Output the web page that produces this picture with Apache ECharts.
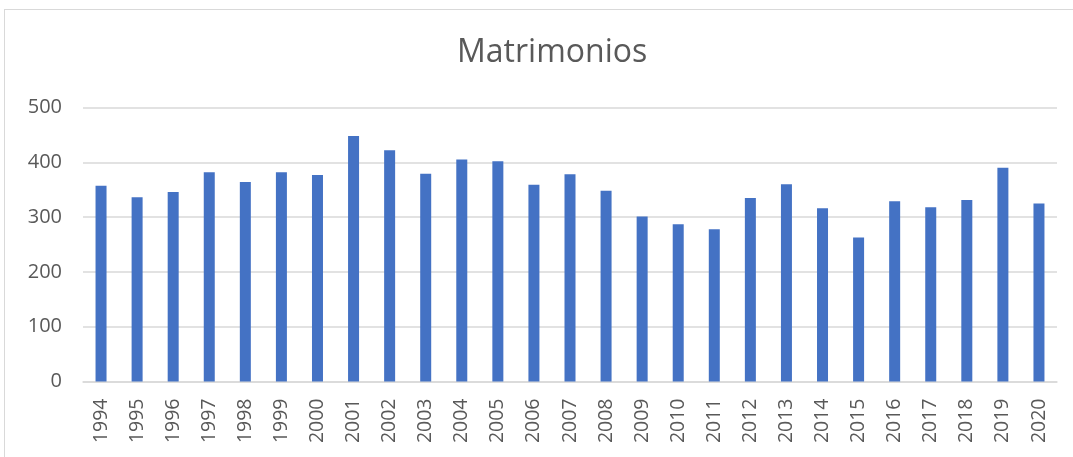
<!DOCTYPE html>
<html>
<head>
<meta charset="utf-8">
<script src="https://cdn.jsdelivr.net/npm/echarts@6/dist/echarts.min.js"></script>
<style>
    html, body { margin: 0; padding: 0; background: #fff; overflow: hidden; }
    #frame { position: absolute; left: 4px; top: 9px; width: 1200px; height: 600px; border: 1px solid #d9d9d9; }
    #chart { position: absolute; left: 0; top: 0; width: 1073px; height: 457px; }
</style>
</head>
<body>
<div id="frame"></div>
<div id="chart"></div>
<script>
var years = ['1994', '1995', '1996', '1997', '1998', '1999', '2000', '2001', '2002', '2003', '2004', '2005', '2006', '2007', '2008', '2009', '2010', '2011', '2012', '2013', '2014', '2015', '2016', '2017', '2018', '2019', '2020'];
var matrimonios = [357, 336, 346, 382, 364, 382, 377, 448, 422, 379, 405, 402, 359, 378, 348, 301, 287, 278, 335, 360, 316, 263, 329, 318, 331, 390, 325];
var yTicks = [0, 100, 200, 300, 400, 500];

var myChart = echarts.init(document.getElementById('chart'));
var option = {
    animation: false,
    title: {
        text: 'Matrimonios',
        left: 452,
        top: 32,
        textStyle: {
            fontFamily: 'Open Sans',
            fontSize: 32,
            fontWeight: 'normal',
            color: '#595959'
        }
    },
    grid: {
        left: 83,
        right: 16,
        top: 107.5,
        bottom: 75.5
    },
    xAxis: {
        type: 'category',
        data: years,
        axisLine: { lineStyle: { color: '#d9d9d9', width: 1.5 } },
        axisTick: { show: false },
        axisLabel: {
            interval: 0,
            rotate: 90,
            margin: 17,
            fontFamily: 'Open Sans',
            fontSize: 19.5,
            color: '#595959'
        }
    },
    yAxis: {
        type: 'value',
        min: yTicks[0],
        max: yTicks[yTicks.length - 1],
        interval: 100,
        axisLine: { show: false },
        axisTick: { show: false },
        splitLine: { lineStyle: { color: '#d9d9d9', width: 1.5 } },
        axisLabel: {
            margin: 21,
            fontFamily: 'Open Sans',
            fontSize: 20,
            color: '#595959'
        }
    },
    series: [{
        name: 'Matrimonios',
        type: 'bar',
        barWidth: 11,
        itemStyle: { color: '#4472c4' },
        data: matrimonios
    }]
};
myChart.setOption(option);
</script>
</body>
</html>
